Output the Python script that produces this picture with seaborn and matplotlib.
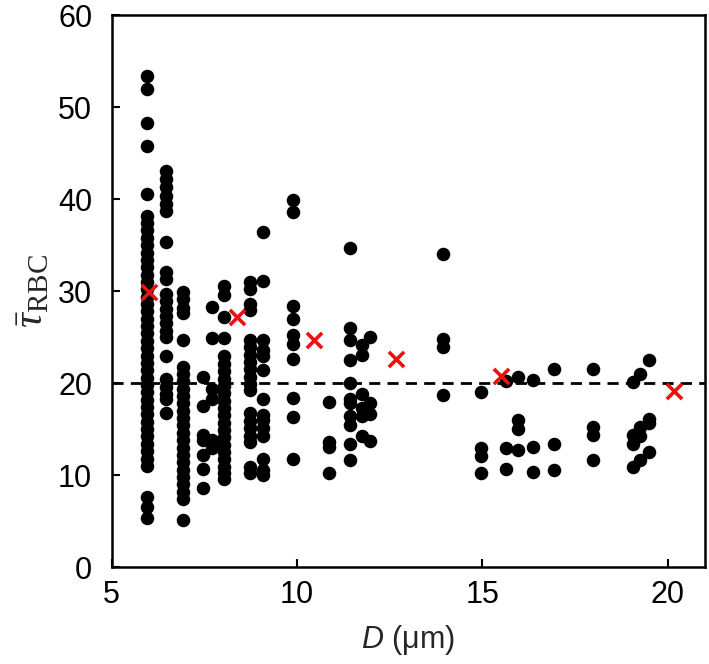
import pandas as pd
import matplotlib
matplotlib.use("Agg")
import matplotlib.pyplot as plt
import seaborn as sns

# vessel diameter (um) of each column of points
diameters = [5.95, 6.47, 6.93, 7.47, 7.72, 8.04, 8.72, 9.08, 9.9, 10.85, 11.43,
             11.75, 11.96, 13.94, 14.97, 15.65, 15.95, 16.36, 16.93, 17.98,
             19.06, 19.24, 19.49]

# mean RBC residence time per vessel, one list per diameter
tau_d595 = [53.4, 52.0, 48.3, 45.8, 40.6, 38.2, 37.4, 36.6, 35.8, 35.0, 34.2,
            33.4, 32.6, 31.8, 31.0, 30.2, 29.4, 28.6, 27.8, 27.0, 26.2, 25.4,
            24.6, 23.8, 23.0, 22.2, 21.4, 20.6, 19.8, 19.0, 18.2, 17.4, 16.6,
            15.8, 15.0, 14.2, 13.4, 12.6, 11.8, 11.0, 7.6, 6.5, 5.3]
tau_d647 = [43.1, 42.2, 41.3, 40.4, 39.5, 38.7, 35.3, 32.1, 31.3, 29.7, 28.9,
            28.1, 27.3, 26.5, 25.7, 25.0, 23.0, 20.4, 19.6, 18.8, 18.3, 16.8]
tau_d693 = [29.9, 29.2, 28.2, 27.6, 24.7, 21.8, 21.0, 20.2, 19.4, 18.6, 17.8,
            17.0, 16.2, 15.4, 14.6, 13.8, 13.0, 12.2, 11.4, 10.6, 9.8, 9.0,
            8.2, 7.4, 5.1]
tau_d747 = [20.7, 17.5, 14.4, 13.8, 12.2, 10.7, 8.6]
tau_d772 = [28.3, 24.9, 19.4, 18.3, 13.8, 12.9]
tau_d804 = [30.6, 29.6, 27.2, 24.9, 22.9, 22.1, 21.3, 20.5, 19.7, 18.9, 18.1,
            17.3, 16.5, 15.7, 14.9, 14.1, 13.3, 12.5, 11.7, 10.9, 10.2, 9.6]
tau_d872 = [31.0, 30.2, 28.6, 27.9, 24.7, 23.9, 23.1, 22.3, 21.5, 20.7, 19.9,
            19.2, 16.7, 15.9, 15.1, 14.3, 13.6, 10.9, 10.2]
tau_d908 = [36.4, 31.1, 24.7, 23.6, 22.9, 21.4, 18.3, 16.5, 16.0, 15.1, 14.2,
            11.8, 10.5, 10.0]
tau_d990 = [39.9, 38.6, 28.4, 27.0, 25.2, 24.3, 22.6, 18.4, 16.3, 11.8]
tau_d1085 = [17.9, 13.6, 13.1, 10.2]
tau_d1143 = [34.7, 26.0, 24.7, 22.5, 20.0, 18.3, 17.8, 16.4, 15.5, 13.4, 11.6]
tau_d1175 = [24.2, 23.1, 18.8, 17.3, 16.4, 14.3]
tau_d1196 = [25.0, 17.8, 16.6, 13.7]
tau_d1394 = [34.0, 24.8, 23.9, 18.7]
tau_d1497 = [19.0, 13.0, 12.1, 10.2]
tau_d1565 = [20.2, 13.0, 10.7]
tau_d1595 = [20.7, 16.0, 15.0, 12.7]
tau_d1636 = [20.3, 13.1, 10.3]
tau_d1693 = [21.5, 13.4, 10.6]
tau_d1798 = [21.5, 15.2, 14.4, 11.6]
tau_d1906 = [20.1, 14.4, 13.4, 10.9]
tau_d1924 = [21.0, 15.2, 14.3, 11.6]
tau_d1949 = [22.5, 16.1, 15.7, 12.5]

# binned means (red crosses)
mean_d = [6.0, 8.37, 10.45, 12.68, 15.51, 20.16]
mean_tau = [29.9, 27.2, 24.7, 22.6, 20.8, 19.1]

ref_tau = 20

tau_lists = [tau_d595, tau_d647, tau_d693, tau_d747, tau_d772, tau_d804,
             tau_d872, tau_d908, tau_d990, tau_d1085, tau_d1143, tau_d1175,
             tau_d1196, tau_d1394, tau_d1497, tau_d1565, tau_d1595, tau_d1636,
             tau_d1693, tau_d1798, tau_d1906, tau_d1924, tau_d1949]

rows = []
for d, taus in zip(diameters, tau_lists):
    for t in taus:
        rows.append({"D": d, "tau": t})
df = pd.DataFrame(rows)
df_mean = pd.DataFrame({"D": mean_d, "tau": mean_tau})

sns.set_theme(style="ticks")
plt.rcParams["font.family"] = ["Liberation Sans", "DejaVu Sans"]
plt.rcParams["mathtext.fontset"] = "custom"
plt.rcParams["mathtext.rm"] = "Liberation Serif"
plt.rcParams["mathtext.it"] = "Liberation Serif:italic"
plt.rcParams["mathtext.sf"] = "Liberation Sans:italic"

fig = plt.figure(figsize=(7.09, 6.64), dpi=100)
ax = fig.add_axes([0.1575, 0.146, 0.8365, 0.831])

ax.axhline(ref_tau, color="black", lw=2.0, ls=(0, (4, 2.6)), zorder=1)
sns.scatterplot(data=df, x="D", y="tau", ax=ax, color="black", s=95,
                linewidth=0, zorder=2)
sns.scatterplot(data=df_mean, x="D", y="tau", ax=ax, color="#ee1111",
                marker="x", s=120, linewidth=2.6, zorder=3)

ax.set_xlim(5, 21)
ax.set_ylim(0, 60)
ax.set_xticks([5, 10, 15, 20])
ax.set_yticks(range(0, 61, 10))
ax.tick_params(direction="in", length=6, width=1.5, labelsize=22,
               colors="black")
ax.tick_params(axis="y", pad=14)
ax.tick_params(axis="x", pad=9)
for sp in ax.spines.values():
    sp.set_linewidth(1.8)
    sp.set_color("black")

ax.set_xlabel(r"$\mathsf{D}$ (μm)", fontsize=22, labelpad=10)
ax.set_ylabel(r"$\bar{\tau}_{\mathrm{RBC}}$", fontsize=30, labelpad=4)

fig.savefig("out.png", dpi=100)
